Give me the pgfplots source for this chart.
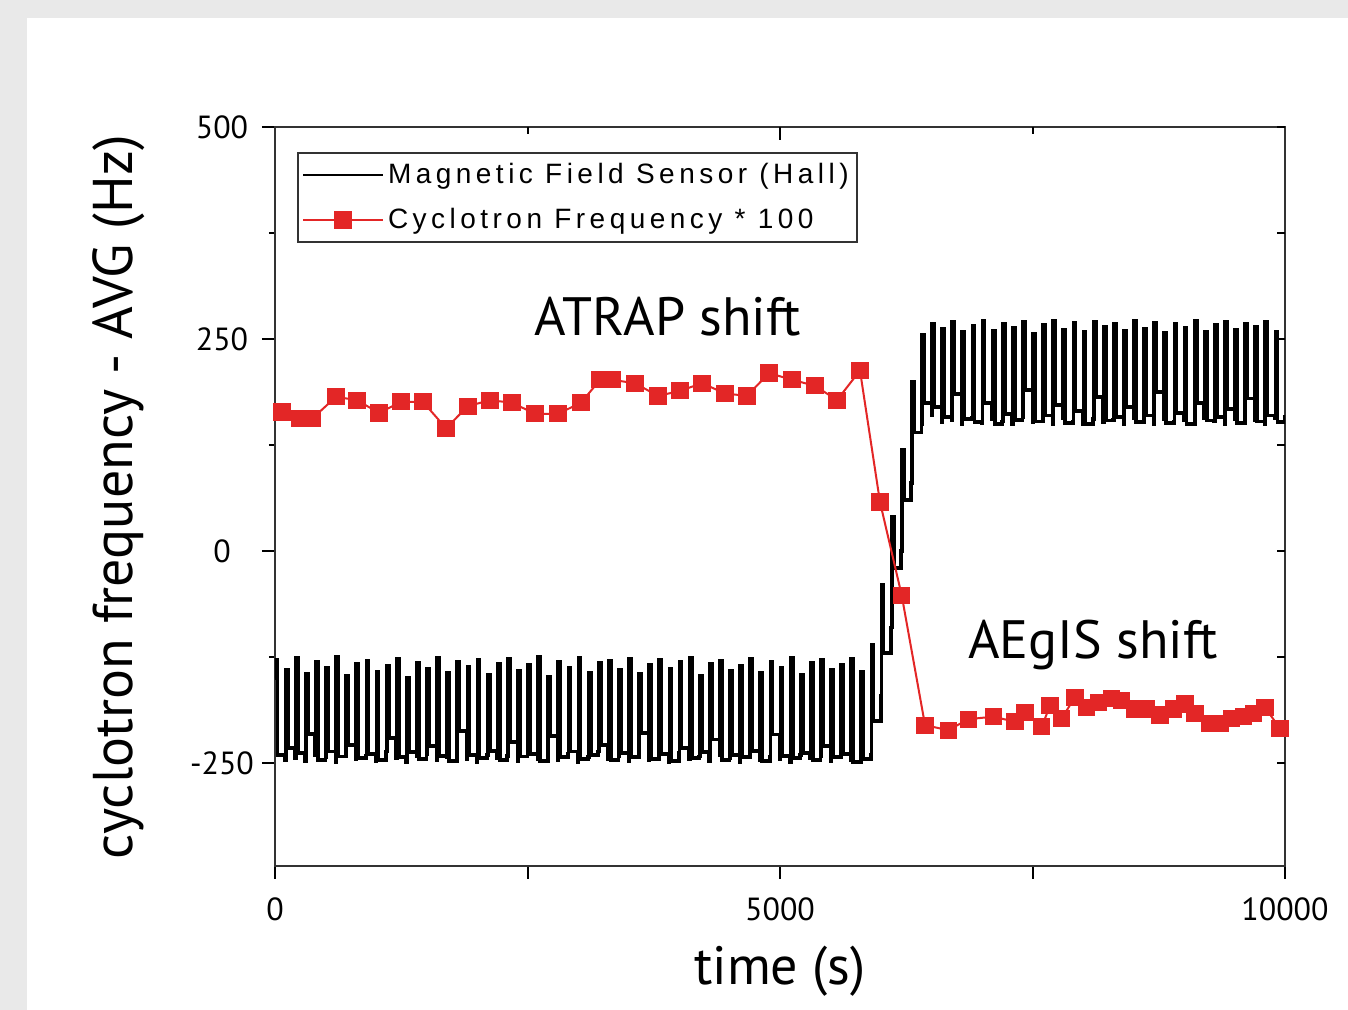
\documentclass[border=0pt]{standalone}
\usepackage{fontspec}
\setmainfont{PT Sans}
\newfontfamily\legfont[LetterSpace=16]{Liberation Sans}
\usepackage{pgfplots}
\pgfplotsset{compat=1.18}
\definecolor{bggray}{HTML}{E9E9E9}
\definecolor{cred}{HTML}{E32626}

\pgfplotstableread{
t v
0 -150
5 -128
25 -240
100 -246
105 -140
125 -232
200 -244
205 -126
225 -238
300 -247
305 -145
325 -215
400 -240
405 -131
425 -246
500 -243
505 -138
525 -236
600 -248
605 -125
625 -242
700 -239
705 -147
725 -228
800 -245
805 -133
825 -244
900 -241
905 -129
925 -239
1000 -247
1005 -142
1025 -246
1100 -236
1105 -135
1125 -220
1200 -244
1205 -127
1225 -243
1300 -248
1305 -149
1325 -237
1400 -242
1405 -132
1425 -245
1500 -239
1505 -139
1525 -230
1600 -246
1605 -126
1625 -241
1700 -243
1705 -144
1725 -247
1800 -237
1805 -130
1825 -212
1900 -245
1905 -136
1925 -240
2000 -248
2005 -128
2025 -244
2100 -240
2105 -146
2125 -235
2200 -244
2205 -133
2225 -246
2300 -241
2305 -127
2325 -225
2400 -247
2405 -141
2425 -242
2500 -238
2505 -134
2525 -239
2600 -245
2605 -125
2625 -247
2700 -242
2705 -148
2725 -218
2800 -246
2805 -131
2825 -243
2900 -239
2905 -137
2925 -236
3000 -248
3005 -126
3025 -245
3100 -243
3105 -143
3125 -240
3200 -236
3205 -132
3225 -228
3300 -245
3305 -129
3325 -246
3400 -241
3405 -140
3425 -238
3500 -247
3505 -127
3525 -243
3600 -240
3605 -145
3625 -214
3700 -246
3705 -134
3725 -245
3800 -243
3805 -128
3825 -239
3900 -248
3905 -139
3925 -247
4000 -238
4005 -131
4025 -232
4100 -245
4105 -126
4125 -244
4200 -242
4205 -147
4225 -237
4300 -247
4305 -133
4325 -222
4400 -240
4405 -129
4425 -246
4500 -244
4505 -141
4525 -240
4600 -248
4605 -135
4625 -243
4700 -239
4705 -127
4725 -235
4800 -246
4805 -144
4825 -247
4900 -242
4905 -130
4925 -216
5000 -245
5005 -138
5025 -241
5100 -248
5105 -126
5125 -244
5200 -240
5205 -146
5225 -238
5300 -244
5305 -132
5325 -246
5400 -241
5405 -128
5425 -230
5500 -247
5505 -140
5525 -243
5600 -243
5605 -134
5625 -239
5700 -246
5705 -127
5725 -248
5800 -242
5805 -142
5825 -245
5900 -240
5905 -110
5925 -200
6000 -170
6005 -40
6025 -120
6100 -90
6105 40
6125 -20
6200 0
6205 120
6225 60
6300 80
6305 200
6325 140
6400 150
6405 255
6425 175
6500 160
6505 268
6525 170
6600 152
6605 262
6625 158
6700 155
6705 270
6725 185
6800 150
6805 258
6825 156
6900 157
6905 266
6925 152
7000 151
7005 271
7025 175
7100 156
7105 260
7125 150
7200 153
7205 268
7225 162
7300 150
7305 263
7325 155
7400 158
7405 270
7425 190
7500 152
7505 256
7525 153
7600 155
7605 267
7625 160
7700 150
7705 271
7725 172
7800 157
7805 261
7825 151
7900 153
7905 269
7925 165
8000 150
8005 258
8025 150
8100 156
8105 270
8125 182
8200 152
8205 264
8225 154
8300 155
8305 268
8325 158
8400 150
8405 260
8425 170
8500 157
8505 272
8525 152
8600 153
8605 262
8625 160
8700 150
8705 269
8725 188
8800 156
8805 257
8825 151
8900 152
8905 268
8925 163
9000 155
9005 263
9025 150
9100 150
9105 271
9125 175
9200 157
9205 259
9225 154
9300 153
9305 267
9325 158
9400 150
9405 270
9425 168
9500 156
9505 261
9525 151
9600 152
9605 268
9625 180
9700 155
9705 264
9725 153
9800 150
9805 270
9825 160
9900 157
9905 258
9925 152
10000 160
}\hall

\pgfplotstableread{
t v
69 164
248 156
366 156
604 182
812 178
1030 163
1248 176
1465 176
1693 145
1911 171
2129 178
2347 175
2574 162
2802 162
3030 175
3218 202
3337 202
3564 198
3792 183
4010 189
4228 198
4455 186
4673 183
4891 210
5119 202
5347 195
5564 178
5792 213
5990 58
6205 -52
6436 -205
6666 -211
6864 -198
7112 -195
7327 -201
7426 -190
7591 -207
7673 -182
7789 -197
7921 -172
8037 -184
8151 -178
8284 -174
8383 -176
8515 -186
8631 -186
8762 -193
8894 -186
9010 -180
9109 -191
9257 -203
9356 -203
9472 -197
9587 -195
9686 -191
9802 -184
9950 -209
}\cyc

\begin{document}
\begin{tikzpicture}
\useasboundingbox (-137.5pt,-72pt) rectangle (536.5pt,433pt);
\fill[bggray] (-137.5pt,-72pt) rectangle (536.5pt,433pt);
\fill[white] (-124pt,-72pt) rectangle (536.5pt,424pt);
\begin{axis}[
  scale only axis,
  width=505pt, height=369.5pt,
  xmin=0, xmax=10000, ymin=-371, ymax=500,
  scaled ticks=false,
  axis line style={black!80, line width=1.2pt},
  tick style={black, line width=1pt},
  tick align=outside,
  xtick pos=left, ytick pos=left,
  major tick length=6.5pt, minor tick length=3pt,
  xtick={0,2500,5000,7500,10000},
  xticklabels={0,,5000,,10000},
  ytick={-250,0,250,500},
  yticklabels={-250,0,250,500},
  minor ytick={-375,-125,125,375},
  tick label style={font=\fontsize{16}{16}\selectfont},
  xticklabel style={anchor=center, yshift=-15pt},
  yticklabel style={anchor=center, xshift=-20pt},
  xlabel={time (s)},
  ylabel={cyclotron frequency - AVG (Hz)},
  xlabel style={font=\fontsize{27}{27}\selectfont, at={(axis description cs:0.5,-0.143)}, anchor=center},
  ylabel style={font=\fontsize{28}{28}\selectfont, at={(axis description cs:-0.155,0.499)}, anchor=center},
  legend cell align=left,
  legend style={at={(axis description cs:0.0218,0.966)}, anchor=north west,
    draw=black!80, line width=1pt, font=\legfont\fontsize{14}{14}\selectfont,
    row sep=7pt, inner xsep=2pt, inner ysep=3pt},
  legend image code/.code={\draw[mark repeat=2,mark phase=2,line width=1pt] plot coordinates {(0pt,0pt) (20pt,0pt) (40pt,0pt)};},
]
\addplot[black, line width=1.9pt, const plot] table[x=t,y=v] {\hall};
\addlegendentry{Magnetic Field Sensor (Hall)}
\addplot[cred, line width=1pt, mark=square*, mark size=3.8pt, mark options={cred}] table[x=t,y=v] {\cyc};
\addlegendentry{Cyclotron Frequency * 100}
\node[font=\fontsize{27}{27}\selectfont, anchor=center] at (axis cs:3891,277) {ATRAP shift};
\node[font=\fontsize{27}{27}\selectfont, anchor=center] at (axis cs:8099,-111) {AEgIS shift};
\end{axis}
\begin{axis}[
  scale only axis,
  width=505pt, height=369.5pt,
  xmin=0, xmax=10000, ymin=-371, ymax=500,
  scaled ticks=false,
  axis line style={draw=none},
  tick style={black, line width=1pt},
  tick align=inside,
  xtick pos=right, ytick pos=right,
  major tick length=6.5pt, minor tick length=3.5pt,
  xtick={5000}, minor xtick={2500,7500},
  ytick={-375,-250,...,500},
  major y tick style={/pgfplots/major tick length=4pt},
  xticklabels={}, yticklabels={},
]
\end{axis}
\end{tikzpicture}
\end{document}
